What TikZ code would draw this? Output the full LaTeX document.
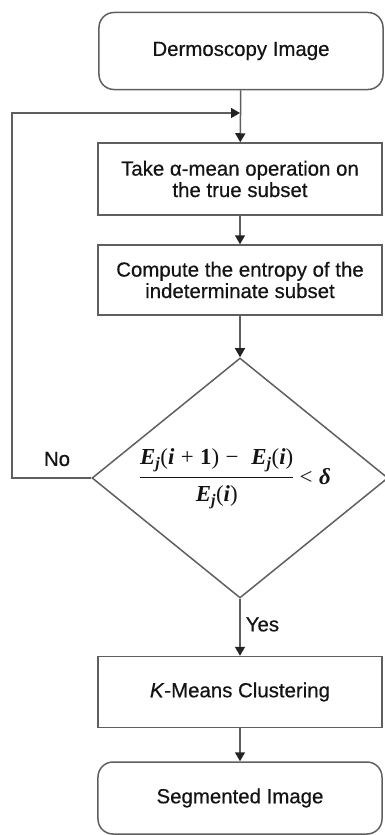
\documentclass[tikz,border=0pt]{standalone}
\usepackage{xcolor}
\usepackage{fontspec}
\setmainfont{Liberation Sans}[FakeBold=0.5]
\newfontfamily\formfont{Liberation Serif}
\usepackage{tikz}
\usetikzlibrary{shapes.geometric, arrows.meta, positioning, calc}
\definecolor{LineGray}{RGB}{95,95,95}
\definecolor{TipGray}{RGB}{35,35,35}
\definecolor{TextDark}{RGB}{20,20,20}
% Stopping test shown in the decision node (set as text)
\newcommand{\bvar}[1]{{\bfseries\itshape #1}}
\newcommand{\Ej}{\bvar{E}\textsubscript{\bvar{j}}}
\newcommand{\opsp}{\hspace{0.28em}}
\newcommand{\ratiotest}{{\formfont\setlength{\arrayrulewidth}{1.1pt}%
  \begin{tabular}{@{}c@{}}
    \Ej(\bvar{i}\opsp+\opsp\textbf{1})\opsp−\opsp\opsp\Ej(\bvar{i})\\[4pt]
    \hline
    \rule{0pt}{24pt}\Ej(\bvar{i})
  \end{tabular}\opsp<\opsp\bvar{δ}}}

\begin{document}
\begin{tikzpicture}[x=1bp, y=1bp,
  font=\fontsize{20.5}{21.5}\selectfont, text=TextDark,
  every node/.style={inner sep=0pt},
  procbox/.style={draw=LineGray, line width=1.5bp, rectangle,
                  minimum width=284bp, minimum height=72bp, align=center},
  termbox/.style={procbox, rounded corners=15bp, minimum height=77bp},
  testbox/.style={draw=LineGray, line width=1.5bp, shape=diamond,
                  minimum width=296bp, minimum height=240bp},
  link/.style={draw=LineGray, line width=1.5bp,
               -{Triangle[width=10bp,length=9bp,color=TipGray]}}]
\useasboundingbox (0,0) rectangle (384,-835);

% Main column
\node[termbox] (dermo) at (241,-51) {Dermoscopy Image};
\node[procbox] (amean) at (240,-179) {Take α-mean operation on\\the true subset};
\node[procbox, minimum height=70bp] (entropy) at (240,-280)
  {Compute the entropy of the\\indeterminate subset};
\node[testbox] (check) at (240,-478) {};
\node[font=\fontsize{23}{26}\selectfont] (ratio) at ([xshift=-4.5bp]check.center) {\ratiotest};
\node[procbox, minimum height=71bp] (kmeans) at (240,-692)
  {\textit{K}-Means Clustering};
\node[termbox, minimum height=72bp] (segment) at (240,-798) {Segmented Image};

% Loop back point
\coordinate (join) at (240,-113);

% Connectors
\draw[link] (dermo) -- (amean);
\draw[link] (amean) -- (entropy);
\draw[link] (entropy) -- (check);
\draw[link] (check.south) -- node[right=5bp, pos=0.45] (yes) {Yes} (kmeans);
\draw[link] (kmeans) -- (segment);
\draw[link] (check.west) -- ++(-79,0) |- (join);

% No label
\node (no) at (57,-459) {No};

\end{tikzpicture}
\end{document}
